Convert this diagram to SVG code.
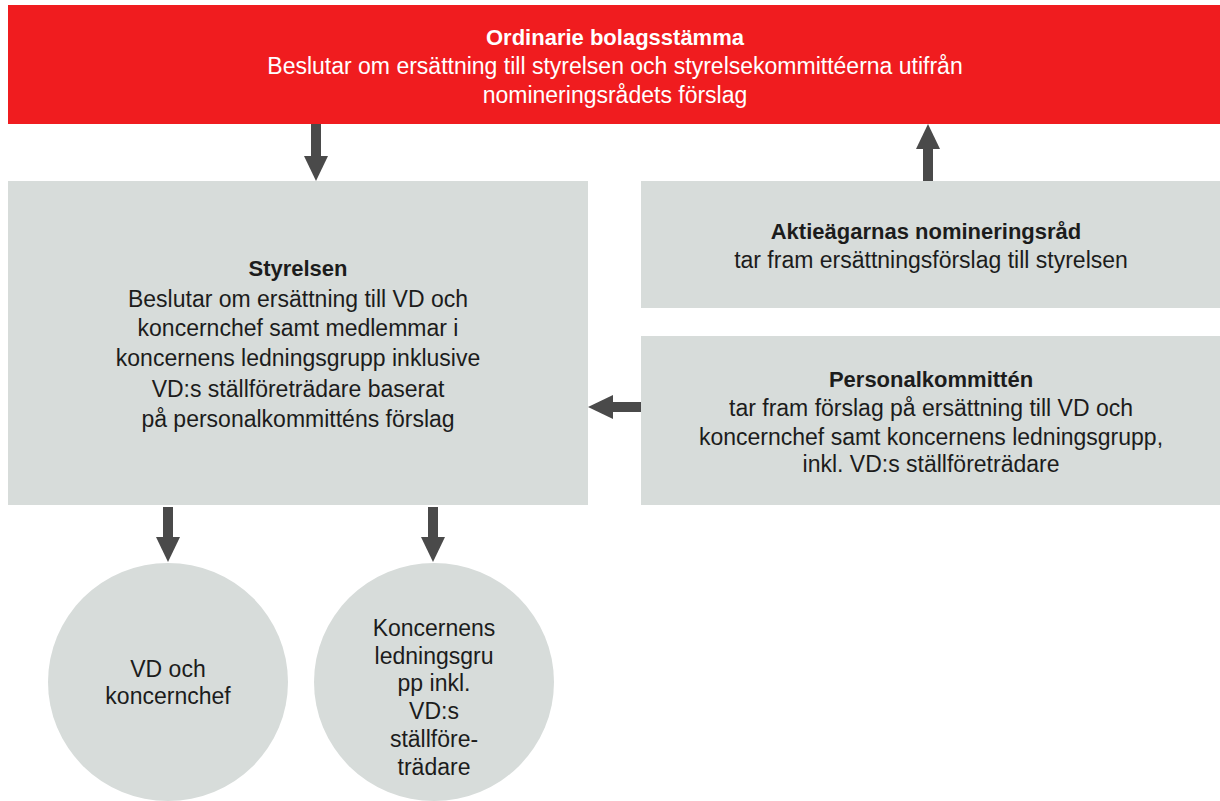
<svg xmlns="http://www.w3.org/2000/svg" width="1220" height="801" viewBox="0 0 1220 801">
<style>
  .t{font-family:"Liberation Sans",Arial,sans-serif;font-size:23px;text-anchor:middle;fill:#1c1c1c}
  .b{font-weight:bold;font-size:22px}
  .w{fill:#ffffff}
  .box{fill:#d7dcda}
  .conn{stroke:#4a4a4a;stroke-width:10;fill:none;marker-end:url(#ah)}
</style>
<defs>
  <marker id="ah" markerUnits="userSpaceOnUse" markerWidth="25" markerHeight="24" viewBox="0 0 25 24" refX="0" refY="12" orient="auto">
    <path d="M0,0 L25,12 L0,24 z" fill="#4a4a4a"/>
  </marker>
</defs>
<rect width="1220" height="801" fill="#ffffff"/>
<g id="stamma">
  <rect x="8" y="5" width="1212" height="119" fill="#f01c1f"/>
  <text class="t b w" x="615" y="45">Ordinarie bolagsstämma</text>
  <text class="t w" x="615" y="74">Beslutar om ersättning till styrelsen och styrelsekommittéerna utifrån</text>
  <text class="t w" x="615" y="103">nomineringsrådets förslag</text>
</g>
<g id="styrelsen">
  <rect class="box" x="8" y="181" width="580" height="324"/>
  <text class="t b" x="298" y="276">Styrelsen</text>
  <text class="t" x="298" y="307">Beslutar om ersättning till VD och</text>
  <text class="t" x="298" y="336">koncernchef samt medlemmar i</text>
  <text class="t" x="298" y="366">koncernens ledningsgrupp inklusive</text>
  <text class="t" x="298" y="397">VD:s ställföreträdare baserat</text>
  <text class="t" x="298" y="427">på personalkommitténs förslag</text>
</g>
<g id="nomineringsrad">
  <rect class="box" x="641" y="181" width="579" height="127"/>
  <text class="t b" x="926" y="239">Aktieägarnas nomineringsråd</text>
  <text class="t" x="931" y="268">tar fram ersättningsförslag till styrelsen</text>
</g>
<g id="personalkommitten">
  <rect class="box" x="641" y="336" width="579" height="169"/>
  <text class="t b" x="931" y="387">Personalkommittén</text>
  <text class="t" x="931" y="416">tar fram förslag på ersättning till VD och</text>
  <text class="t" x="931" y="445">koncernchef samt koncernens ledningsgrupp,</text>
  <text class="t" x="931" y="472">inkl. VD:s ställföreträdare</text>
</g>
<g id="vd">
  <ellipse class="box" cx="168" cy="682" rx="120" ry="119"/>
  <text class="t" x="168" y="677">VD och</text>
  <text class="t" x="168" y="704">koncernchef</text>
</g>
<g id="ledningsgrupp">
  <ellipse class="box" cx="434" cy="682" rx="120" ry="119"/>
  <text class="t" x="434" y="636">Koncernens</text>
  <text class="t" x="434" y="664">ledningsgru</text>
  <text class="t" x="434" y="691">pp inkl.</text>
  <text class="t" x="434" y="719">VD:s</text>
  <text class="t" x="434" y="747">ställföre-</text>
  <text class="t" x="434" y="775">trädare</text>
</g>
<g id="connectors">
  <line class="conn" x1="316" y1="124" x2="316" y2="156"/>
  <line class="conn" x1="928" y1="181" x2="928" y2="149"/>
  <line class="conn" x1="641" y1="407" x2="613" y2="407"/>
  <line class="conn" x1="168" y1="507" x2="168" y2="537"/>
  <line class="conn" x1="433" y1="507" x2="433" y2="537"/>
</g>
</svg>
